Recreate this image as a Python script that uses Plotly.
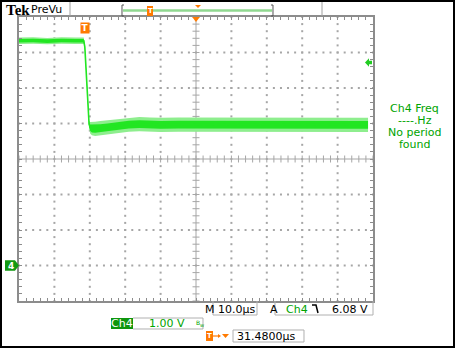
import plotly.graph_objects as go

# ---------------- data ----------------
time_us = [0, 4, 8, 12, 16, 18.3, 18.6, 18.9, 19.2, 19.5, 19.8, 20.1, 20.6, 21.5,
           23, 25, 27, 29, 31, 34, 37, 40, 45, 50, 55, 60, 65, 70, 75, 80, 85, 90, 95, 98.6]
volts_mid = [6.33, 6.34, 6.32, 6.34, 6.33, 6.33, 6.15, 5.55, 4.85, 4.30, 3.98, 3.88, 3.86, 3.85,
             3.87, 3.89, 3.92, 3.95, 3.97, 3.98, 3.97, 3.96, 3.97, 3.97, 3.96, 3.96, 3.97, 3.96,
             3.97, 3.96, 3.96, 3.97, 3.96, 3.96]
noise_outer = [0.09, 0.09, 0.09, 0.09, 0.09, 0.09, 0.05, 0.04, 0.04, 0.05, 0.10, 0.16, 0.19, 0.20,
               0.20, 0.20, 0.20, 0.20, 0.20, 0.20, 0.20, 0.20, 0.20, 0.20, 0.20, 0.20, 0.20, 0.20,
               0.20, 0.20, 0.20, 0.20, 0.20, 0.20]
noise_inner = [0.05, 0.05, 0.05, 0.05, 0.05, 0.05, 0.03, 0.02, 0.02, 0.03, 0.06, 0.09, 0.11, 0.11,
               0.11, 0.11, 0.11, 0.11, 0.11, 0.11, 0.11, 0.11, 0.11, 0.11, 0.11, 0.11, 0.11, 0.11,
               0.11, 0.11, 0.11, 0.11, 0.11, 0.11]

trigger_time_us = 18.6
trigger_arrow_v = 5.72
ground_v = 0.0
x_range = [0, 100]      # 10 divisions x 10 us
y_range = [-1, 7]       # 8 divisions x 1 V, ground 3 div below centre

header_texts = ["Tek", "PreVu"]
freq_lines = ["Ch4 Freq", "----.Hz", "No period", "found"]
timebase = "10.0µs"
trig_src = "Ch4"
trig_level = "6.08 V"
ch_label = "Ch4"
ch_scale = "1.00 V"
h_position = "31.4800µs"

# ---------------- layout helpers ----------------
W, H = 455, 348
L, T, R, B = 19, 17, 373, 301
GREEN_T = "#00A400"
ORANGE = "#FF7A00"
GRID = "#A6A6A6"


def px(x):
    return (x - L) / (R - L)


def py(y):
    return (B - y) / (B - T)


fig = go.Figure()

# dotted graticule
gx, gy = [], []
for v in range(int(y_range[0]) + 1, int(y_range[1])):
    if v == 3:
        continue
    for k in range(0, 51):
        gx.append(x_range[0] + k * 2)
        gy.append(v)
for t10 in range(10, 100, 10):
    if t10 == 50:
        continue
    for k in range(0, 41):
        gx.append(t10)
        gy.append(y_range[0] + k * 0.2)
fig.add_trace(go.Scatter(x=gx, y=gy, mode="markers", hoverinfo="skip",
                         marker=dict(symbol="square", size=2, color=GRID, line=dict(width=0))))

# centre crosshair ticks
cx = [k * 2 for k in range(51)]
fig.add_trace(go.Scatter(x=cx, y=[3] * len(cx), mode="markers", hoverinfo="skip",
                         marker=dict(symbol="line-ns", size=5, line=dict(width=1, color=GRID))))
cy = [y_range[0] + k * 0.2 for k in range(41)]
fig.add_trace(go.Scatter(x=[50] * len(cy), y=cy, mode="markers", hoverinfo="skip",
                         marker=dict(symbol="line-ew", size=5, line=dict(width=1, color=GRID))))

# waveform: noise envelopes + centre
up_o = [m + n for m, n in zip(volts_mid, noise_outer)]
lo_o = [m - n for m, n in zip(volts_mid, noise_outer)]
up_i = [m + n for m, n in zip(volts_mid, noise_inner)]
lo_i = [m - n for m, n in zip(volts_mid, noise_inner)]
fig.add_trace(go.Scatter(x=time_us, y=up_o, mode="lines", line=dict(width=0), hoverinfo="skip"))
fig.add_trace(go.Scatter(x=time_us, y=lo_o, mode="lines", line=dict(width=0), fill="tonexty",
                         fillcolor="#8EEE8E", hoverinfo="skip"))
fig.add_trace(go.Scatter(x=time_us, y=up_i, mode="lines", line=dict(width=0), hoverinfo="skip"))
fig.add_trace(go.Scatter(x=time_us, y=lo_i, mode="lines", line=dict(width=0), fill="tonexty",
                         fillcolor="#22E622", hoverinfo="skip"))
fig.add_trace(go.Scatter(x=time_us, y=volts_mid, mode="lines", line=dict(width=1.6, color="#22E622"),
                         hoverinfo="skip"))

shapes = []
ann = []

# centre lines
shapes.append(dict(type="line", xref="x", yref="y", x0=50, x1=50, y0=y_range[0], y1=y_range[1],
                   line=dict(color=GRID, width=1), layer="below"))
shapes.append(dict(type="line", xref="x", yref="y", x0=x_range[0], x1=x_range[1], y0=3, y1=3,
                   line=dict(color=GRID, width=1), layer="below"))


def pshape(path, fill, line_color=None, lw=0):
    shapes.append(dict(type="path", xref="paper", yref="paper", path=path, fillcolor=fill,
                       line=dict(color=line_color or fill, width=lw)))


def ppath(points, close=True):
    s = "M " + " L ".join(f"{px(a):.5f},{py(b):.5f}" for a, b in points)
    return s + (" Z" if close else "")


def pline(x0, y0, x1, y1, color, width=1):
    shapes.append(dict(type="line", xref="paper", yref="paper", x0=px(x0), y0=py(y0),
                       x1=px(x1), y1=py(y1), line=dict(color=color, width=width)))


def prect(x0, y0, x1, y1, fill, line_color=None, lw=0):
    shapes.append(dict(type="rect", xref="paper", yref="paper", x0=px(x0), y0=py(y0),
                       x1=px(x1), y1=py(y1), fillcolor=fill,
                       line=dict(color=line_color or fill, width=lw)))


def text(x, y, s, color="black", size=11, xanchor="left", family="DejaVu Sans", **kw):
    ann.append(dict(xref="paper", yref="paper", x=px(x), y=py(y), text=s, showarrow=False,
                    xanchor=xanchor, yanchor="middle", font=dict(family=family, size=size, color=color),
                    **kw))


# header
text(4, 10, "<b>" + header_texts[0] + "</b>", size=15, family="Liberation Serif")
text(29, 10, header_texts[1], size=11)
pline(70, 1, 70, 16, "#A0A0A0", 1)
pline(322, 1, 322, 16, "#A0A0A0", 1)
pline(123, 10.5, 272, 10.5, "#90D890", 2.5)
pshape(ppath([(124, 5), (122, 5), (122, 16), (124, 16)], close=False), "rgba(0,0,0,0)", "#555555", 1)
pshape(ppath([(271, 5), (273, 5), (273, 16), (271, 16)], close=False), "rgba(0,0,0,0)", "#555555", 1)
prect(147, 6, 153, 16, ORANGE)
text(150, 11, "<b>T</b>", color="white", size=7, xanchor="center")
pshape(ppath([(195, 5), (201, 5), (198, 8)]), ORANGE)

# trigger marks on graticule
shapes.append(dict(type="path", xref="x", yref="paper",
                   path=f"M 48.9,{py(17):.5f} L 51.1,{py(17):.5f} L 50,{py(22):.5f} Z",
                   fillcolor=ORANGE, line=dict(color=ORANGE, width=0)))
ann.append(dict(xref="x", yref="paper", x=trigger_time_us, y=py(28), text="<b>T</b>", showarrow=False,
                xanchor="center", yanchor="middle", font=dict(family="DejaVu Sans", size=9, color="white"),
                bgcolor=ORANGE, borderpad=0, width=8, height=10))
# ground marker "4"
shapes.append(dict(type="path", xref="paper", yref="y",
                   path=f"M {px(5):.5f},{ground_v - 0.15} L {px(15):.5f},{ground_v - 0.15} "
                        f"L {px(19):.5f},{ground_v} L {px(15):.5f},{ground_v + 0.15} "
                        f"L {px(5):.5f},{ground_v + 0.15} Z",
                   fillcolor="#119911", line=dict(width=0)))
ann.append(dict(xref="paper", yref="y", x=px(10.5), y=ground_v, text="<b>4</b>", showarrow=False,
                xanchor="center", yanchor="middle", font=dict(family="DejaVu Sans", size=9, color="white")))
# trigger level arrow on right
shapes.append(dict(type="path", xref="paper", yref="y",
                   path=f"M {px(365):.5f},{trigger_arrow_v} L {px(369):.5f},{trigger_arrow_v + 0.12} "
                        f"L {px(369):.5f},{trigger_arrow_v + 0.05} L {px(372):.5f},{trigger_arrow_v + 0.05} "
                        f"L {px(372):.5f},{trigger_arrow_v - 0.05} L {px(369):.5f},{trigger_arrow_v - 0.05} "
                        f"L {px(369):.5f},{trigger_arrow_v - 0.12} Z",
                   fillcolor="#22CC22", line=dict(width=0)))

# right readout
for s, yy in zip(freq_lines, [108.5, 121, 132.5, 144]):
    text(415, yy, s, color=GREEN_T, xanchor="center", borderpad=0)

# bottom readouts
text(203, 309, "M")
pshape(ppath([(213, 301), (213, 315), (257, 315), (257, 301)], close=False), "rgba(0,0,0,0)", "#B0B0B0", 1)
text(216, 309, timebase)
text(268, 309, "A")
pshape(ppath([(275, 301), (275, 315), (373, 315), (373, 301)], close=False), "rgba(0,0,0,0)", "#B0B0B0", 1)
text(284, 309, trig_src, color=GREEN_T)
pshape(ppath([(312, 305), (316, 305), (318, 313)], close=False), "rgba(0,0,0,0)", "black", 1.5)
text(370, 309, trig_level, xanchor="right")

prect(111, 318, 133, 329, "#0E960E")
text(122, 323.5, ch_label, color="white", xanchor="center")
pshape(ppath([(133, 318), (203, 318), (203, 329), (133, 329)], close=False), "rgba(0,0,0,0)", "#B0B0B0", 1)
text(147, 323.5, ch_scale, color=GREEN_T)
text(194, 322, "B", color=GREEN_T, size=6)
text(198, 325, "w", color=GREEN_T, size=5)

prect(206, 331, 213, 341, ORANGE)
text(209.5, 336, "<b>T</b>", color="white", size=7, xanchor="center")
pline(213, 336, 219, 336, ORANGE, 1.2)
pshape(ppath([(218, 334), (221, 336), (218, 338)]), ORANGE)
pshape(ppath([(222, 334), (229, 334), (225.5, 338)]), ORANGE)
pshape(ppath([(233, 330), (304, 330), (304, 342), (233, 342), (233, 330)], close=False),
       "rgba(0,0,0,0)", "#B0B0B0", 1)
text(235, 336, h_position)

# outer black frame
shapes.append(dict(type="rect", xref="paper", yref="paper", x0=px(1), y0=py(347), x1=px(454), y1=py(1),
                   line=dict(color="black", width=2), fillcolor="rgba(0,0,0,0)"))

axis_common = dict(showgrid=False, zeroline=False, showticklabels=False, showline=True,
                   linecolor="#8C8C8C", linewidth=2, mirror="ticks", ticks="inside", ticklen=3,
                   tickcolor="#8C8C8C", tickwidth=1, fixedrange=True)
fig.update_layout(
    width=W, height=H,
    margin=dict(l=L, r=W - R, t=T, b=H - B, pad=0),
    paper_bgcolor="white", plot_bgcolor="white",
    showlegend=False,
    xaxis=dict(range=x_range, dtick=2, tick0=0, **axis_common),
    yaxis=dict(range=y_range, dtick=0.2, tick0=-1, **axis_common),
    shapes=shapes, annotations=ann,
)

fig.write_html("out.html", config={"displayModeBar": False},
               post_script="document.body.style.margin='0';document.body.style.overflow='hidden';")
